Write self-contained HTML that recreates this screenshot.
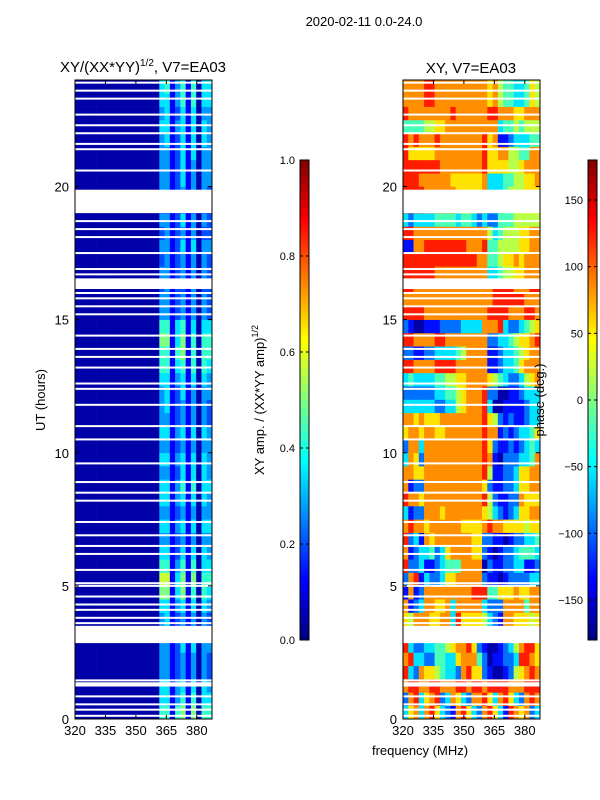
<!DOCTYPE html>
<html><head><meta charset="utf-8">
<style>
body{margin:0;background:#fff;}
svg{display:block;font-family:"Liberation Sans",sans-serif;}
text{fill:#000;}
</style></head>
<body>
<svg id="fig" width="600" height="800" viewBox="0 0 600 800">
<text x="364" y="26" font-size="13" text-anchor="middle">2020-02-11 0.0-24.0</text>
<text x="143" y="72" font-size="15" text-anchor="middle">XY/(XX*YY)<tspan font-size="10" dy="-6">1/2</tspan><tspan dy="6">, V7=EA03</tspan></text>
<text x="471" y="73" font-size="15" text-anchor="middle">XY, V7=EA03</text>
<g id="ampPanel"></g>
<g id="phPanel"></g>
<g id="axes"></g>
<text transform="translate(45,400) rotate(-90)" font-size="13" text-anchor="middle">UT (hours)</text>
<text x="420" y="755" font-size="13" text-anchor="middle">frequency (MHz)</text>
<text transform="translate(264,400) rotate(-90)" font-size="13" text-anchor="middle">XY amp. / (XX*YY amp)<tspan font-size="9" dy="-6">1/2</tspan></text>
<text transform="translate(544,400) rotate(-90)" font-size="13" text-anchor="middle">phase (deg.)</text>
</svg>
<script>
const freqTicks=[320,335,350,365,380];
const timeTicks=[0,5,10,15,20];
const ampTicks=[0.0,0.2,0.4,0.6,0.8,1.0];
const phaseTicks=[-150,-100,-50,0,50,100,150];
const phaseLevels=[-165,-130,-95,-55,-20,20,55,85,125,165];
const ampBright=["5515616055","4413515044","4413414043","3312313032","3312313032","3312414033","0000000000","3412313032","4413414043","6614615054","7714616055","5513515044","4412414043","3312313033","4413414044","3312313033","4413414043","4413515044","3312414043","4413414043","3312313033","4413414043","3312313032","3412313032","3412413033","4413414043","5514515054","5515615055","6614615055","5514514044","3312313032","3312313032","2312213022","3312313032","2312313032","3312414033","2312313022","3312413032","0000000000","3312313032","3312413033","3312413033","3312414033","3412414043","4413414043","3412414033","4413515044","4513515044"];
const phaseRows=["36737863217863278631876723","27836782376327786378632787","78877887778878878888777888","83276654332786621001256787","78332244336777420112238876","83223344567786210012357886","65777667738666653217766656","65777667738666653217766656","71237766737777732227777477","17127777777778884466676677","27813223667777721101222233","82231123444777702112233112","71233423677776621012234443","82317677777776622110122334","78776777777666678776666566","31227776777777765321236677","87767777777777785211227666","71227777777777762112236677","77667777777777785112236677","37627777777777787102223347","27737777777777786211212343","67767766777777787712123346","77676667777777786521211233","33333322335677783001111233","22222233445677782200112333","34333344556677776543223567","88777788887777771123346777","22112233334577771123345677","88777788777777772233456678","21001112222333377783223456","88887777777777778888777887","77777777777777777888888777","88777777777777777888877788","88888877777777773345566777","88888888888888774456676777","11778888888877784455556677","88777777777777775345556677","32333344443443232244455555","88887777776666673334555666","88887777776666673334555666","88877777766666673334455667","88888887777777786666556777","86666677777777786677554477","87877787777777786711233344","44445566777777777734454555","87777777787777778877766777","77778877777777776754433465","77778877777777776754433465"];
const gaps=[[2.85,3.5],[19.0,19.88],[16.15,16.55],[1.22,1.38]];
const thinGaps=[0.12,0.35,0.55,0.85,1.45,3.6,3.8,4.1,4.3,4.6,5.0,5.1,5.6,6.2,6.5,6.9,7.4,8.2,8.5,8.9,9.6,10.5,11.0,11.8,12.4,12.6,13.2,13.6,13.9,14.4,15.2,15.5,15.8,16.0,16.7,16.9,17.5,18.1,18.4,18.7,20.6,21.4,21.6,22.0,22.3,22.7,23.3,23.6,23.9];

const NS='http://www.w3.org/2000/svg';
const svg=document.getElementById('fig');
function el(t,a,p){const e=document.createElementNS(NS,t);for(const k in a)e.setAttribute(k,a[k]);(p||svg).appendChild(e);return e;}
function jet(v){v=Math.max(0,Math.min(1,v));
 const r=Math.max(0,Math.min(1,1.5-Math.abs(4*v-3))),g=Math.max(0,Math.min(1,1.5-Math.abs(4*v-2))),b=Math.max(0,Math.min(1,1.5-Math.abs(4*v-1)));
 return 'rgb('+Math.round(r*255)+','+Math.round(g*255)+','+Math.round(b*255)+')';}
const F0=320,F1=387.5,T0=0,T1=24,PY0=719,PY1=80;
const NC=26, dF=(F1-F0)/NC, dT=0.5;
function yS(t){return PY0-(t-T0)/(T1-T0)*(PY0-PY1);}
function xS(px0,f){return px0+(f-F0)/(F1-F0)*137;}
function drawPanel(gid,px0,valFn){
 const g=document.getElementById(gid);
 for(let r=0;r<48;r++){
  for(let c=0;c<NC;c++){
   const x0=xS(px0,F0+c*dF),x1=xS(px0,F0+(c+1)*dF);
   const y0=yS((r+1)*dT),y1=yS(r*dT);
   const e=el('rect',{x:x0.toFixed(2),y:y0.toFixed(2),width:(x1-x0+0.3).toFixed(2),height:(y1-y0+0.3).toFixed(2),fill:valFn(r,c)},g);
   
   
  }
 }
 gaps.forEach(gp=>{const e=el('rect',{x:px0,y:yS(gp[1]),width:137,height:yS(gp[0])-yS(gp[1]),fill:'#fff'},g);
  
  });
 thinGaps.forEach(t=>{const e=el('rect',{x:px0,y:yS(t)-1,width:137,height:2,fill:'#fff'},g);
  
  });
}
drawPanel('ampPanel',75,(r,c)=>{
 if(c<16)return jet(0.04);
 return jet(+ampBright[r][c-16]*0.075+0.05);
});
drawPanel('phPanel',403,(r,c)=>{
 const ph=phaseLevels[+phaseRows[r][c]];
 return jet((ph+180)/360);
});
const ax=document.getElementById('axes');
[75,403].forEach((px0,i)=>{
 const fr=el('rect',{x:px0,y:PY1,width:137,height:PY0-PY1,fill:'none',stroke:'#000','stroke-width':1},ax);
 
 
 freqTicks.forEach(f=>{const x=xS(px0,f);
  el('line',{x1:x,y1:PY0,x2:x,y2:PY0-4,stroke:'#000'},ax);
  el('line',{x1:x,y1:PY1,x2:x,y2:PY1+4,stroke:'#000'},ax);
  const t=el('text',{x:x,y:PY0+16,'font-size':13,'text-anchor':'middle'},ax);t.textContent=f;
  
  });
 timeTicks.forEach(v=>{const y=yS(v);
  el('line',{x1:px0,y1:y,x2:px0+4,y2:y,stroke:'#000'},ax);
  el('line',{x1:px0+137,y1:y,x2:px0+133,y2:y,stroke:'#000'},ax);
  const t=el('text',{x:px0-6,y:y+5,'font-size':13,'text-anchor':'end'},ax);t.textContent=v;
  
  });
});
function colorbar(x,vmin,vmax,ticks,name,fmt){
 const g=el('g',{},ax);
 
 
 const cy0=640,cy1=160,n=120;
 for(let i=0;i<n;i++){el('rect',{x:x,y:cy0-(i+1)*(cy0-cy1)/n,width:9,height:(cy0-cy1)/n+0.5,fill:jet((i+0.5)/n)},g);}
 el('rect',{x:x,y:cy1,width:9,height:cy0-cy1,fill:'none',stroke:'#000'},g);
 ticks.forEach(v=>{const y=cy0-(v-vmin)/(vmax-vmin)*(cy0-cy1);
  el('line',{x1:x,y1:y,x2:x+3,y2:y,stroke:'#000'},g);
  el('line',{x1:x+9,y1:y,x2:x+6,y2:y,stroke:'#000'},g);
  const t=el('text',{x:x-5,y:y+4,'font-size':11,'text-anchor':'end'},g);t.textContent=fmt(v);
  
  });
}
colorbar(300,0,1,ampTicks,'amp-colorbar',v=>v.toFixed(1));
colorbar(588,-180,180,phaseTicks,'phase-colorbar',v=>v<0?'\u2212'+(-v):''+v);
</script>
</body></html>
